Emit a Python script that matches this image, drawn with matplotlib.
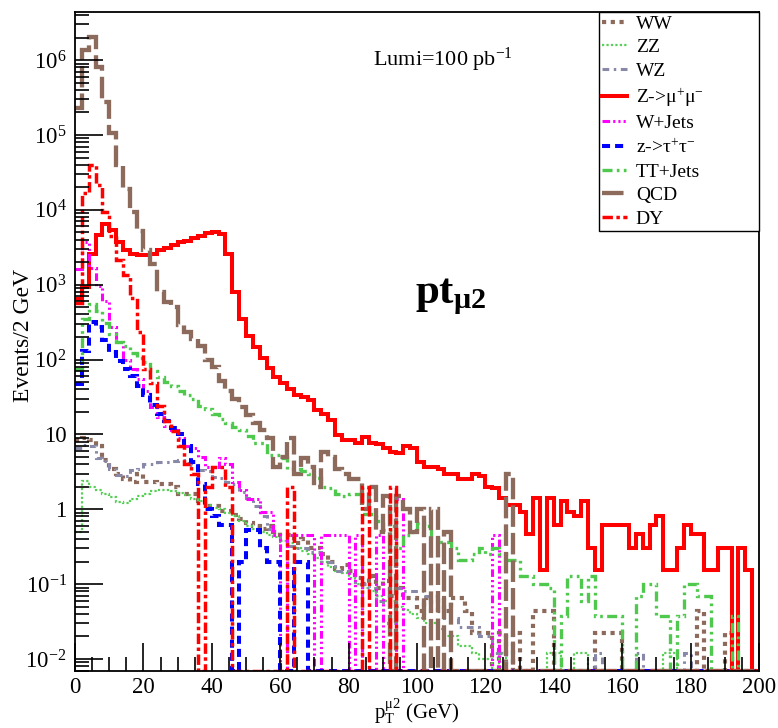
import numpy as np
import matplotlib
matplotlib.use("Agg")
import matplotlib.pyplot as plt
from matplotlib.ticker import FixedLocator, MultipleLocator, NullFormatter

plt.rcParams['font.family'] = ['Liberation Serif', 'DejaVu Serif']
plt.rcParams['mathtext.fontset'] = 'custom'
plt.rcParams['mathtext.rm'] = 'Liberation Serif'
plt.rcParams['mathtext.it'] = 'Liberation Serif:italic'
plt.rcParams['mathtext.bf'] = 'Liberation Serif:bold'

# 2 GeV bins from 0 to 200
edges = np.arange(0, 202, 2)

ww = [8.5, 9.0, 8.5, 7.0, 4.6, 3.5, 3.0, 2.5, 2.3, 3.0,
      2.3, 2.3, 2.2, 2.2, 2.0, 1.6, 1.6, 1.6, 1.3, 1.1,
      1.1, 0.95, 0.95, 0.85, 0.75, 0.65, 0.6, 0.55, 0.6, 0.5,
      0.45, 0.45, 0.35, 0.4, 0.3, 0.3, 0.25, 0.2, 0.16, 0.18,
      0.15, 0.12, 0.1, 0.13, 0.09, 0.11, 0.07, 0.09, 0.066, 0.066,
      0.044, 0.066, 0.044, 0.066, 0.044, 0.066, 0.066, 0.044, 0.022, 0.022,
      0.022, 0, 0.022, 0, 0.022, 0, 0, 0.044, 0.044, 0.044,
      0, 0, 0, 0, 0, 0, 0.022, 0.022, 0.022, 0.022,
      0, 0, 0, 0, 0, 0, 0, 0, 0, 0,
      0, 0.044, 0, 0, 0, 0.022, 0, 0, 0, 0]

zz = [0.5, 2.4, 2.0, 1.8, 1.6, 1.45, 1.25, 1.2, 1.35, 1.5,
      1.6, 1.75, 1.8, 1.8, 1.75, 1.65, 1.55, 1.35, 1.3, 1.15,
      1.05, 1.0, 0.9, 0.8, 0.7, 0.6, 0.55, 0.5, 0.45, 0.42,
      0.38, 0.35, 0.3, 0.28, 0.25, 0.22, 0.2, 0.17, 0.15, 0.14,
      0.12, 0.1, 0.09, 0.08, 0.07, 0.06, 0.06, 0.05, 0.045, 0.04,
      0.035, 0.03, 0.03, 0.025, 0.02, 0.02, 0.015, 0.015, 0.012, 0.01,
      0.01, 0, 0.012, 0, 0, 0, 0, 0, 0, 0.012,
      0.012, 0, 0, 0.012, 0.012, 0, 0, 0, 0, 0,
      0, 0, 0, 0, 0, 0, 0.012, 0.012, 0, 0,
      0, 0, 0, 0, 0, 0, 0, 0, 0, 0]

wz = [6.5, 7.3, 7.0, 4.8, 4.4, 3.5, 2.9, 2.8, 3.3, 3.5,
      4.0, 4.0, 4.3, 4.3, 4.4, 4.5, 4.1, 3.9, 3.3, 3.2,
      2.7, 2.6, 2.3, 2.2, 1.7, 1.4, 1.1, 0.8, 0.55, 0.45,
      0.38, 0.32, 0.3, 0.3, 0.27, 0.27, 0.2, 0.2, 0.15, 0.15,
      0.15, 0.1, 0.1, 0.09, 0.06, 0.03, 0.03, 0.09, 0.08, 0.08,
      0.08, 0.07, 0.07, 0.05, 0.035, 0.035, 0.027, 0.027, 0.027, 0.02,
      0.02, 0.012, 0.012, 0, 0, 0, 0, 0, 0, 0,
      0, 0, 0, 0, 0, 0, 0.012, 0, 0, 0,
      0, 0, 0.012, 0, 0, 0, 0, 0, 0, 0.012,
      0, 0, 0, 0, 0, 0, 0, 0, 0, 0]

zmumu = [650, 940, 2600, 4600, 6500, 5300, 3700, 2900, 2600, 2500,
         2500, 2600, 2900, 3100, 3400, 3700, 3800, 4150, 4450, 4850,
         5100, 4800, 2600, 810, 345, 208, 148, 104, 77, 59,
         48, 41, 34, 32, 29, 21, 19, 15.6, 9.9, 8.5,
         8.5, 7.6, 9.3, 7.6, 7.4, 6.5, 5.9, 5.6, 6.9, 6.5,
         4.3, 3.7, 3.7, 3.5, 3.0, 3.0, 2.5, 2.5, 3.0, 2.8,
         2.0, 1.9, 1.4, 1.15, 1.15, 0.93, 0.46, 1.4, 0.155, 1.4,
         0.62, 1.3, 0.93, 0.80, 1.3, 0.30, 0.155, 0.62, 0.62, 0.62,
         0.62, 0.30, 0.46, 0.30, 0.62, 0.80, 0.155, 0.155, 0.30, 0.62,
         0.46, 0.46, 0.155, 0.155, 0.30, 0.30, 0, 0.30, 0.155, 0]

wjets = [1600, 3700, 1650, 950, 600, 270, 170, 100, 75, 55,
         38, 23, 17, 13, 11.5, 9, 7, 6.5, 5, 3.7,
         3.7, 4.8, 4.0, 2.3, 1.82, 1.37, 1.37, 0.91, 0.91, 0.455,
         0, 0.455, 0.455, 0.455, 0.455, 0, 0.455, 0.455, 0.455, 0.455,
         0, 0.455, 0, 0, 0.455, 0, 0, 1.37, 0, 0,
         0, 0, 0, 0, 0, 0, 0, 0, 0, 0,
         0, 0.455, 0, 0, 0, 0, 0, 0, 0, 0,
         0, 0, 0, 0, 0, 0, 0, 0, 0, 0,
         0, 0, 0, 0, 0, 0, 0, 0, 0, 0,
         0, 0, 0, 0, 0, 0, 0, 0, 0, 0]

ztautau = [47, 130, 320, 270, 180, 125, 95, 75, 60, 45,
           34, 25, 19, 15, 12, 10, 7, 4.3, 2.2, 1.0,
           0.8, 0.62, 0.62, 0, 0.2, 0.53, 0.53, 0.3, 0.2, 0.2,
           0, 0, 0.2, 0.2, 0, 0, 0, 0, 0, 0,
           0, 0, 0, 0, 0, 0, 0, 0, 0, 0,
           0, 0, 0, 0, 0, 0, 0, 0, 0, 0,
           0, 0, 0, 0, 0, 0, 0, 0, 0, 0,
           0, 0, 0, 0, 0, 0, 0, 0, 0, 0,
           0, 0, 0, 0, 0, 0, 0, 0, 0, 0,
           0, 0, 0, 0, 0, 0, 0, 0, 0, 0]

ttjets = [75, 350, 560, 450, 310, 220, 170, 150, 122, 105,
          94, 70, 58, 50, 44, 38, 34, 30, 24, 22,
          19, 16, 14, 12.5, 11.6, 9.5, 7.7, 7.7, 5.3, 5.3,
          4.8, 3.4, 3.4, 3.2, 3.0, 2.6, 2.0, 1.9, 1.6, 1.5,
          1.6, 1.6, 0.86, 0.86, 0.7, 0.53, 0.6, 0.3, 0.45, 0.5,
          0.65, 0.6, 0.4, 0.36, 0.36, 0.3, 0.21, 0.21, 0.25, 0.3,
          0.25, 0.3, 0.25, 0.21, 0.21, 0.13, 0.13, 0.1, 0.1, 0.09,
          0, 0.037, 0.13, 0.13, 0.06, 0.13, 0.037, 0.037, 0.037, 0.037,
          0, 0, 0.07, 0.1, 0.1, 0.037, 0.037, 0, 0.037, 0.1,
          0.1, 0.07, 0.07, 0, 0, 0, 0.037, 0, 0, 0]

qcd = [2.3e5, 1.36e6, 2.05e6, 8.0e5, 2.8e5, 1.05e5, 4.0e4, 1.9e4, 9.4e3, 5.2e3,
       2.9e3, 1.9e3, 800, 580, 500, 290, 230, 190, 150, 100,
       80, 52, 38, 30, 23, 18, 14, 11.6, 9.0, 3.7,
       5.0, 9.0, 3.0, 4.8, 3.7, 2.0, 5.9, 5.0, 3.5, 3.0,
       2.5, 2.5, 1.0, 2.0, 0.5, 1.5, 0, 1.5, 1.0, 0.5,
       1.0, 0, 1.0, 0, 0.5, 0, 0, 0, 0, 0,
       0, 0, 0, 3.0, 0, 0, 0, 0, 0, 0,
       0, 0, 0, 0, 0, 0, 0, 0, 0, 0,
       0, 0, 0, 0, 0, 0, 0, 0, 0, 0,
       0, 0, 0, 0, 0, 0, 0, 0, 0, 0]

dy = [565, 16700, 39600, 21400, 9400, 4500, 2150, 1350, 660, 230,
      75, 48, 24, 15, 11, 7, 4, 3, 0, 2.0,
      3.7, 3.7, 2.0, 0, 0, 0, 0, 0, 0, 0,
      0, 2.0, 0, 0, 0, 0, 0, 0, 0, 0,
      0, 0, 2.0, 0, 0, 0, 2.0, 0, 0, 0,
      0, 0, 0, 0, 0, 0, 0, 0, 0, 0,
      0, 0, 0, 0, 0, 0, 0, 0, 0, 0,
      0, 0, 0, 0, 0, 0, 0, 0, 0, 0,
      0, 0, 0, 0, 0, 0, 0, 0, 0, 0,
      0, 0, 0, 0, 0, 0, 0, 0, 0, 0]

labels = ['WW', 'ZZ', 'WZ', r'Z->$\mathrm{μ^{+}μ^{-}}$', 'W+Jets',
          r'z->$\mathrm{τ^{+}τ^{-}}$', 'TT+Jets', 'QCD', 'DY']

ytick_vals = [1e-2, 1e-1, 1, 10, 1e2, 1e3, 1e4, 1e5, 1e6]
ytick_labels = [r'10$^{-2}$', r'10$^{-1}$', '1', '10', r'10$^{2}$',
                r'10$^{3}$', r'10$^{4}$', r'10$^{5}$', r'10$^{6}$']

ymin, ymax = 0.0069, 4.4e6

brown = '#8c6b5c'
styles = [
    dict(color=brown, lw=3.0, ls=(0, (1, 1.1))),                   # WW
    dict(color='#55d055', lw=1.6, ls=(0, (1, 1))),                 # ZZ
    dict(color='#8888a8', lw=2.2, ls=(0, (2.2, 1.5, 0.8, 1.5))),   # WZ
    dict(color='#ff0000', lw=2.9, ls='-'),                         # Z->mumu
    dict(color='#ff00ff', lw=2.2, ls=(0, (2.5, 1, 0.7, 1, 0.7, 1, 0.7, 1))),  # W+Jets
    dict(color='#0000ff', lw=2.9, ls=(0, (2, 1.25))),              # z->tautau
    dict(color='#4ec94e', lw=2.4, ls=(0, (3, 1.3, 0.8, 1.3, 0.8, 1.3))),      # TT+Jets
    dict(color=brown, lw=3.1, ls=(0, (5, 1.4))),                   # QCD
    dict(color='#ff0000', lw=2.5, ls=(0, (3, 1, 1, 1))),           # DY
]

fig = plt.figure(figsize=(7.78, 7.28), dpi=100)
ax = fig.add_axes([75/778, 1 - 671/728, 684/778, 659/728])

series = [ww, zz, wz, zmumu, wjets, ztautau, ttjets, qcd, dy]
for vals, lab, st in zip(series, labels, styles):
    v = np.array(vals, dtype=float)
    v = np.where(v > 0, v, ymin)   # empty bins sit on the frame like in ROOT
    ax.stairs(v, edges, baseline=None, label=lab, color=st['color'],
              linewidth=st['lw'], linestyle=st['ls'])

ax.set_yscale('log')
ax.set_xlim(0, 200)
ax.set_ylim(ymin, ymax)

ax.yaxis.set_major_locator(FixedLocator(ytick_vals))
ax.set_yticklabels(ytick_labels)
ax.yaxis.set_minor_locator(FixedLocator(
    [m * 10.0**e for e in range(-3, 7) for m in range(2, 10)]))
ax.yaxis.set_minor_formatter(NullFormatter())
ax.xaxis.set_major_locator(MultipleLocator(20))
ax.xaxis.set_minor_locator(MultipleLocator(5))

ax.tick_params(which='both', direction='in', top=False, right=False,
               labelsize=16.5, width=1.2)
ax.tick_params(which='major', length=20, pad=6)
ax.tick_params(axis='x', which='major', pad=4)
ax.tick_params(which='minor', length=10)
for sp in ax.spines.values():
    sp.set_linewidth(1.3)

# axis titles placed by hand, ROOT puts them close to the labels
fig.text(24/778, 1 - 335/728, 'Events/2 GeV', fontsize=17, rotation=90,
         ha='center', va='center')
fig.text(417/778, 1 - 720/728, r'p$_{\mathrm{T}}^{\mathrm{μ2}}$ (GeV)',
         fontsize=15, ha='center', va='baseline')

ax.text(87, 1.0e6, r'Lumi=100 pb$^{-1}$', fontsize=16, va='center')
ax.text(99.5, 680, r'pt$_{\mathbf{μ2}}$', fontsize=31, fontweight='bold',
        va='center')

leg = ax.legend(loc='upper left', bbox_to_anchor=(0.766, 0, 0.234, 1),
                mode='expand', borderaxespad=0, fontsize=14,
                labelspacing=0.31, handlelength=1.3, handletextpad=0.45,
                borderpad=0.15, fancybox=False, framealpha=1)
leg.get_frame().set_edgecolor('black')
leg.get_frame().set_linewidth(1.0)

fig.savefig('out.png', dpi=100)
